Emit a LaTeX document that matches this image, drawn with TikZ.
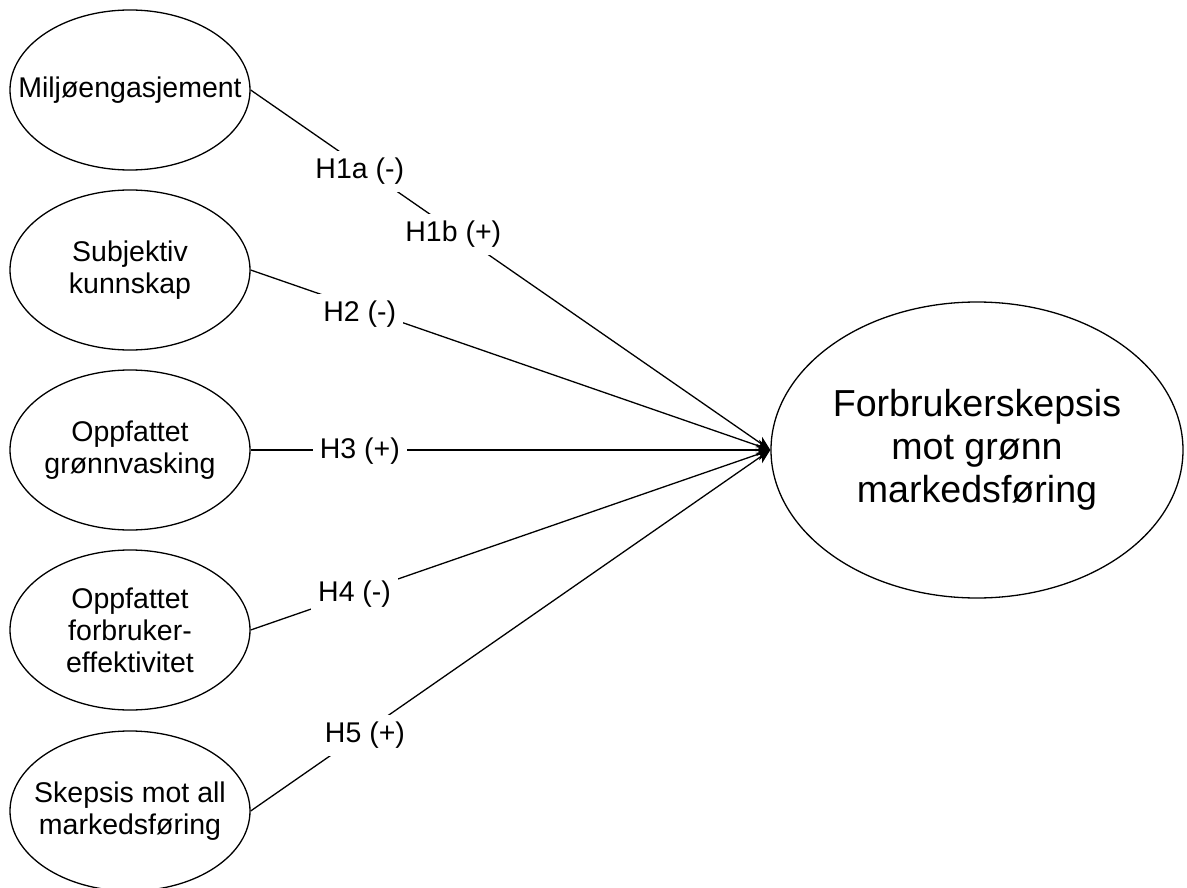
\documentclass[tikz,border=0pt]{standalone}
\usepackage{fontspec}
\setmainfont{Liberation Sans}
\usetikzlibrary{shapes.geometric,arrows.meta}

\tikzset{
  construct/.style={draw, ellipse, line width=1.3pt, minimum width=240pt, minimum height=160pt, inner sep=0pt},
  outcome/.style={draw, ellipse, line width=1.3pt, minimum width=412pt, minimum height=296pt, inner sep=0pt},
  txt/.style={align=center, font=\fontsize{28.5}{32}\selectfont},
  bigtxt/.style={align=center, font=\fontsize{37.6}{43}\selectfont},
  hyp/.style={fill=white, inner sep=7pt, font=\fontsize{28.5}{32}\selectfont},
  link/.style={line width=1.3pt, -{Stealth[length=14pt, width=12pt, inset=4pt]}}
}

\begin{document}
\begin{tikzpicture}[x=1pt, y=-1pt]
    \useasboundingbox (0,0) rectangle (1187,888);
    % constructs
    \node [construct] (milj) at (130,90) {};
    \node [txt] (miljtxt) at (milj) {Miljøengasjement};
    \node [construct] (kunn) at (130,270) {};
    \node [txt] (kunntxt) at (kunn) {Subjektiv\\kunnskap};
    \node [construct] (gronn) at (130,450) {};
    \node [txt] (gronntxt) at (gronn) {Oppfattet\\grønnvasking};
    \node [construct] (eff) at (130,630) {};
    \node [txt] (efftxt) at (eff) {Oppfattet\\forbruker-\\effektivitet};
    \node [construct] (all) at (130,811) {};
    \node [txt] (alltxt) at (all) {Skepsis mot all\\markedsføring};
    % outcome
    \node [outcome] (skep) at (977,450) {};
    \node [bigtxt] (skeptxt) at (skep) {Forbrukerskepsis\\mot grønn\\markedsføring};
    % H1
    \draw [link] (milj.east) -- node [hyp, pos=0.21, yshift=-6pt] (h1a) {H1a (-)}
                               node [hyp, pos=0.39, yshift=-4pt] (h1b) {H1b (+)} (skep.west);
    % H2
    \draw [link] (kunn.east) -- node [hyp, pos=0.21, yshift=-6pt] (h2) {H2 (-)} (skep.west);
    % H3
    \draw [link] (gronn.east) -- node [hyp, pos=0.21, yshift=-1pt] (h3) {H3 (+)} (skep.west);
    % H4
    \draw [link] (eff.east) -- node [hyp, pos=0.2] (h4) {H4 (-)} (skep.west);
    % H5
    \draw [link] (all.east) -- node [hyp, pos=0.22, yshift=-4pt] (h5) {H5 (+)} (skep.west);
  \end{tikzpicture}
\end{document}
